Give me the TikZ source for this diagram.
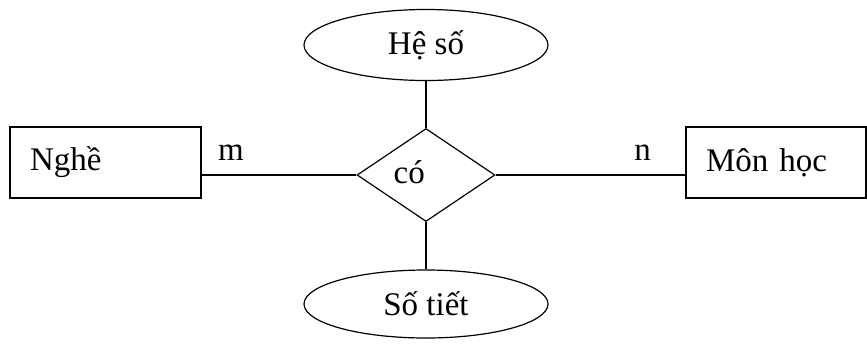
\documentclass[tikz,border=0pt]{standalone}
\usepackage{fontspec}
\setmainfont{Liberation Serif}
\usetikzlibrary{shapes.geometric}

\begin{document}
\begin{tikzpicture}[x=1pt,y=-1pt,font=\fontsize{33}{40}\selectfont,line width=1.2pt,
    entity/.style={draw,rectangle,minimum height=71pt,inner xsep=20pt,inner ysep=0pt,align=left},
    relation/.style={draw,diamond,minimum width=138pt,minimum height=93pt,inner sep=0pt},
    attrib/.style={draw,ellipse,minimum width=244pt,inner sep=0pt},
    card/.style={inner sep=0pt}]
  \useasboundingbox (0,0) rectangle (867,343);

  % entities
  \node[entity,text width=151pt] (nghe) at (105.5,162.5) {Nghề};
  \node[entity,text width=140pt] (monhoc) at (776,162.5) {Môn học};

  % relationship
  \node[relation] (co) at (426,175) {};
  \node[card,anchor=base west] (colabel) at (393,183) {có};

  % attributes
  \node[attrib,minimum height=71pt] (heso) at (426,45) {Hệ số};
  \node[attrib,minimum height=68pt] (sotiet) at (426,304) {Số tiết};

  \draw (heso) -- (co);
  \draw (co) -- (sotiet);
  \draw (co.west -| nghe.east) -- node[card,pos=.19,above=14pt] (m) {m} (co.west);
  \draw (co.east) -- node[card,pos=.775,above=14pt] (n) {n} (co.east -| monhoc.west);
\end{tikzpicture}
\end{document}
